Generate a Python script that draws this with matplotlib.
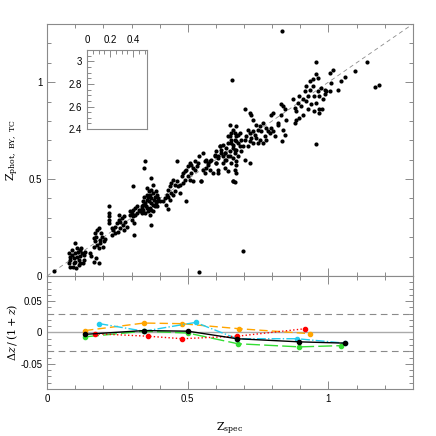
import numpy as np
import matplotlib.pyplot as plt
from matplotlib.ticker import MultipleLocator, FuncFormatter

plt.rcParams['font.family'] = ['Liberation Sans', 'DejaVu Sans']
plt.rcParams['axes.unicode_minus'] = False
plt.rcParams['mathtext.fontset'] = 'dejavuserif'

# z_spec vs z_phot
zspec = [0.026, 0.077, 0.083, 0.089, 0.080, 0.095, 0.100, 0.100, 0.106, 0.109, 0.112,
         0.118, 0.124, 0.121, 0.130, 0.128, 0.112, 0.104, 0.092, 0.083, 0.077, 0.095,
         0.118, 0.089, 0.106, 0.136, 0.132, 0.116, 0.098, 0.151, 0.157, 0.174, 0.186,
         0.168,
         0.165, 0.171, 0.177, 0.183, 0.171, 0.177, 0.183, 0.189, 0.195, 0.201, 0.191,
         0.165, 0.175, 0.187, 0.199, 0.207,
         0.219, 0.219, 0.219, 0.220, 0.219, 0.230, 0.236, 0.242, 0.248, 0.254, 0.260,
         0.266, 0.272, 0.251, 0.260, 0.270, 0.278, 0.284, 0.242, 0.230, 0.254, 0.275,
         0.307, 0.310,
         0.296, 0.301, 0.307, 0.313, 0.319, 0.325, 0.305, 0.313, 0.310, 0.319, 0.331,
         0.293, 0.301, 0.337,
         0.336, 0.342, 0.348, 0.354, 0.359, 0.365, 0.371, 0.377, 0.383, 0.389, 0.354,
         0.371, 0.348, 0.359, 0.365, 0.377, 0.383, 0.342, 0.336, 0.354, 0.371, 0.389,
         0.395, 0.375, 0.371, 0.401, 0.365, 0.377, 0.344, 0.362, 0.387, 0.371, 0.348,
         0.344, 0.340, 0.351, 0.362, 0.379, 0.368, 0.356, 0.386, 0.392,
         0.413, 0.419, 0.425, 0.430, 0.436, 0.442, 0.448, 0.454, 0.430, 0.436, 0.422,
         0.442, 0.460, 0.466, 0.472, 0.454, 0.448, 0.430, 0.460, 0.495, 0.474,
         0.478, 0.484, 0.489, 0.495, 0.501, 0.507, 0.513, 0.519, 0.525, 0.489, 0.501,
         0.513, 0.484, 0.507, 0.525, 0.531, 0.519, 0.548, 0.537, 0.540, 0.554, 0.560,
         0.566, 0.572, 0.578,
         0.596, 0.602, 0.608, 0.614, 0.619, 0.625, 0.631, 0.637, 0.643, 0.649, 0.655,
         0.661, 0.667, 0.673, 0.679, 0.637, 0.643, 0.608, 0.661, 0.673, 0.625, 0.602,
         0.649, 0.667,
         0.643, 0.655, 0.661, 0.667, 0.673, 0.678, 0.684, 0.690, 0.655, 0.661, 0.673,
         0.684, 0.649, 0.667, 0.678, 0.690, 0.661, 0.643, 0.673, 0.655, 0.667, 0.673,
         0.661, 0.667, 0.614, 0.619, 0.625, 0.608, 0.596, 0.602, 0.584, 0.572, 0.566,
         0.554, 0.560, 0.578, 0.590, 0.608, 0.631, 0.548, 0.631, 0.631, 0.702, 0.720,
         0.649, 0.673,
         0.702, 0.720, 0.726, 0.732, 0.743, 0.755, 0.767, 0.779, 0.785, 0.761, 0.749,
         0.738, 0.732, 0.720, 0.714, 0.708, 0.726, 0.743, 0.755, 0.773, 0.791, 0.797,
         0.767, 0.749, 0.732, 0.720, 0.702, 0.696, 0.714, 0.779, 0.803, 0.809,
         0.832, 0.838, 0.844, 0.832, 0.850, 0.838, 0.844, 0.836, 0.820, 0.820, 0.796,
         0.802,
         0.933, 0.945, 0.956, 0.962, 0.974, 0.986, 0.991, 0.968, 0.950, 0.933, 0.915,
         0.897, 0.909, 0.891, 0.880, 0.874, 0.885, 0.903, 0.921, 0.939, 0.956, 0.968,
         0.950, 0.927, 0.909, 0.885, 0.880, 0.897, 0.945, 0.921, 0.962, 0.980, 0.989,
         1.010, 1.006, 0.927,
         0.836, 0.657, 0.696, 0.956, 0.954, 1.137, 1.096, 1.167, 1.181, 1.015, 1.004,
         1.057, 1.045, 1.033, 0.978, 0.968, 0.540]
zphot = [0.025, 0.117, 0.100, 0.109, 0.083, 0.091, 0.121, 0.169, 0.100, 0.126, 0.083,
         0.134, 0.117, 0.143, 0.109, 0.066, 0.057, 0.040, 0.045, 0.045, 0.069, 0.066,
         0.066, 0.134, 0.143, 0.126, 0.083, 0.103, 0.074, 0.117, 0.103, 0.091, 0.069,
         0.074,
         0.195, 0.221, 0.238, 0.247, 0.178, 0.160, 0.143, 0.186, 0.203, 0.178, 0.221,
         0.152, 0.203, 0.169, 0.152, 0.190,
         0.362, 0.324, 0.307, 0.290, 0.272, 0.247, 0.238, 0.255, 0.272, 0.290, 0.281,
         0.298, 0.307, 0.229, 0.247, 0.264, 0.281, 0.255, 0.221, 0.212, 0.316, 0.238,
         0.462, 0.212,
         0.333, 0.324, 0.341, 0.350, 0.359, 0.341, 0.307, 0.316, 0.272, 0.324, 0.333,
         0.316, 0.290, 0.350,
         0.359, 0.342, 0.376, 0.393, 0.410, 0.419, 0.402, 0.428, 0.410, 0.385, 0.453,
         0.445, 0.324, 0.333, 0.350, 0.367, 0.359, 0.385, 0.324, 0.350, 0.376, 0.419,
         0.402, 0.471, 0.505, 0.385, 0.316, 0.333, 0.410, 0.436, 0.436, 0.264, 0.592,
         0.557, 0.367, 0.362, 0.385, 0.393, 0.342, 0.419, 0.376, 0.359,
         0.385, 0.402, 0.419, 0.445, 0.462, 0.479, 0.497, 0.471, 0.410, 0.393, 0.367,
         0.428, 0.488, 0.462, 0.471, 0.436, 0.419, 0.347, 0.591, 0.385, 0.428,
         0.514, 0.531, 0.540, 0.548, 0.565, 0.583, 0.574, 0.557, 0.591, 0.497, 0.514,
         0.531, 0.479, 0.497, 0.548, 0.565, 0.488, 0.488, 0.583, 0.617, 0.634, 0.591,
         0.600, 0.583, 0.591,
         0.626, 0.643, 0.617, 0.669, 0.652, 0.678, 0.634, 0.660, 0.686, 0.721, 0.703,
         0.678, 0.652, 0.695, 0.729, 0.600, 0.540, 0.531, 0.488, 0.574, 0.583, 0.583,
         0.617, 0.738,
         0.721, 0.738, 0.755, 0.704, 0.721, 0.686, 0.738, 0.704, 0.686, 0.660, 0.652,
         0.669, 0.643, 0.634, 0.617, 0.643, 0.609, 0.617, 0.591, 0.583, 0.548, 0.531,
         0.488, 0.483, 0.669, 0.634, 0.617, 0.609, 0.617, 0.583, 0.600, 0.574, 0.557,
         0.548, 0.531, 0.548, 0.531, 0.548, 0.557, 0.488, 0.634, 0.600, 0.600, 0.583,
         0.781, 0.772,
         0.859, 0.842, 0.833, 0.807, 0.781, 0.772, 0.790, 0.764, 0.747, 0.747, 0.755,
         0.729, 0.747, 0.738, 0.755, 0.721, 0.712, 0.712, 0.704, 0.721, 0.738, 0.764,
         0.686, 0.686, 0.686, 0.695, 0.704, 0.669, 0.669, 0.704, 0.747, 0.721,
         0.885, 0.876, 0.859, 0.833, 0.807, 0.755, 0.729, 0.695, 0.790, 0.781, 0.833,
         0.842,
         1.006, 1.014, 1.040, 1.023, 0.971, 0.962, 0.954, 0.928, 0.928, 0.962, 0.954,
         0.928, 0.911, 0.894, 0.868, 0.911, 0.851, 0.876, 0.902, 0.885, 0.894, 0.859,
         0.851, 0.859, 0.833, 0.807, 0.790, 0.816, 0.980, 0.980, 0.954, 0.911, 0.937,
         0.997, 0.954, 0.928,
         1.264, 1.009, 0.131, 0.681, 1.104, 1.104, 1.057, 0.976, 0.983, 1.062, 1.049,
         1.028, 1.005, 0.962, 0.862, 0.842, 0.022]

# binned residuals dz/(1+z)
bx_black = [0.135, 0.344, 0.501, 0.675, 0.897, 1.057]
by_black = [-0.003, 0.003, 0.002, -0.010, -0.015, -0.017]
bx_orange = [0.135, 0.344, 0.478, 0.681, 0.935]
by_orange = [0.003, 0.015, 0.014, 0.006, -0.002]
bx_cyan = [0.186, 0.344, 0.528, 0.675, 0.889, 1.057]
by_cyan = [0.014, 0.002, 0.016, -0.010, -0.010, -0.017]
bx_green = [0.135, 0.344, 0.501, 0.678, 0.897, 1.045]
by_green = [-0.007, 0.002, -0.001, -0.018, -0.023, -0.021]
bx_red = [0.170, 0.359, 0.480, 0.675, 0.918]
by_red = [-0.002, -0.006, -0.010, -0.006, 0.006]

grey = '#8a8a8a'


def style_axes(ax):
    for s in ax.spines.values():
        s.set_color(grey)
        s.set_linewidth(0.8)
    ax.tick_params(which='both', direction='in', top=True, right=True,
                   color=grey, labelsize=7, width=0.7)
    ax.tick_params(which='major', length=6)
    ax.tick_params(which='minor', length=3)


fmt = FuncFormatter(lambda v, p: ('%g' % round(v, 3)))

fig = plt.figure(figsize=(4.36, 4.36), dpi=100)
ax = fig.add_axes([0.108, 0.367, 0.839, 0.578])
ax2 = fig.add_axes([0.108, 0.108, 0.839, 0.259], sharex=ax)

ax.plot([0, 1.3], [0, 1.3], ls=(0, (5, 4)), color=grey, lw=0.6)
ax.scatter(zspec, zphot, s=9, color='black', linewidths=0, zorder=3)
ax.set_xlim(0, 1.3)
ax.set_ylim(0, 1.3)
ax.xaxis.set_major_locator(MultipleLocator(0.5))
ax.xaxis.set_minor_locator(MultipleLocator(0.1))
ax.yaxis.set_major_locator(MultipleLocator(0.5))
ax.yaxis.set_minor_locator(MultipleLocator(0.1))
ax.yaxis.set_major_formatter(fmt)
style_axes(ax)
ax.tick_params(labelbottom=False)
ax.set_ylabel(r'$\mathrm{Z_{phot,\ BY,\ TC}}$', fontsize=8, labelpad=6)

ax2.axhline(0, color='#aaaaaa', lw=1.0)
ax2.axhline(0.03, color=grey, lw=0.8, ls=(0, (6, 4)))
ax2.axhline(-0.03, color=grey, lw=0.8, ls=(0, (6, 4)))
ms = 3
ax2.plot(bx_orange, by_orange, color='#ffa500', ls=(0, (6, 3)), lw=1, marker='o', ms=ms)
ax2.plot(bx_cyan, by_cyan, color='#22ccee', ls='-.', lw=1, marker='o', ms=ms)
ax2.plot(bx_green, by_green, color='#33dd33', ls=(0, (10, 3)), lw=1, marker='o', ms=ms)
ax2.plot(bx_red, by_red, color='red', ls=':', lw=1, marker='o', ms=ms)
ax2.plot(bx_black, by_black, color='black', ls='-', lw=1, marker='o', ms=ms)
ax2.set_ylim(-0.09, 0.09)
ax2.yaxis.set_major_locator(MultipleLocator(0.05))
ax2.yaxis.set_minor_locator(MultipleLocator(0.01))
ax2.xaxis.set_major_formatter(fmt)
ax2.yaxis.set_major_formatter(fmt)
style_axes(ax2)
ax2.set_xlabel(r'$\mathrm{Z_{spec}}$', fontsize=8, labelpad=12)
ax2.set_ylabel(r'$\Delta z\,/\,(1+z)$', fontsize=8, labelpad=0)

# empty inset
ins = fig.add_axes([0.1995, 0.704, 0.138, 0.181])
ins.set_xlim(0, 0.52)
ins.set_ylim(2.4, 3.1)
ins.xaxis.set_major_locator(MultipleLocator(0.2))
ins.xaxis.set_minor_locator(MultipleLocator(0.05))
ins.yaxis.set_major_locator(MultipleLocator(0.2))
ins.yaxis.set_minor_locator(MultipleLocator(0.05))
ins.xaxis.set_major_formatter(fmt)
ins.yaxis.set_major_formatter(fmt)
for s in ins.spines.values():
    s.set_color(grey)
    s.set_linewidth(0.8)
ins.tick_params(which='both', direction='in', top=True, bottom=False, right=False,
                labeltop=True, labelbottom=False, color=grey, labelsize=7, width=0.7)
ins.tick_params(which='major', length=5)
ins.tick_params(which='minor', length=3)

fig.savefig('out.png', dpi=100)
